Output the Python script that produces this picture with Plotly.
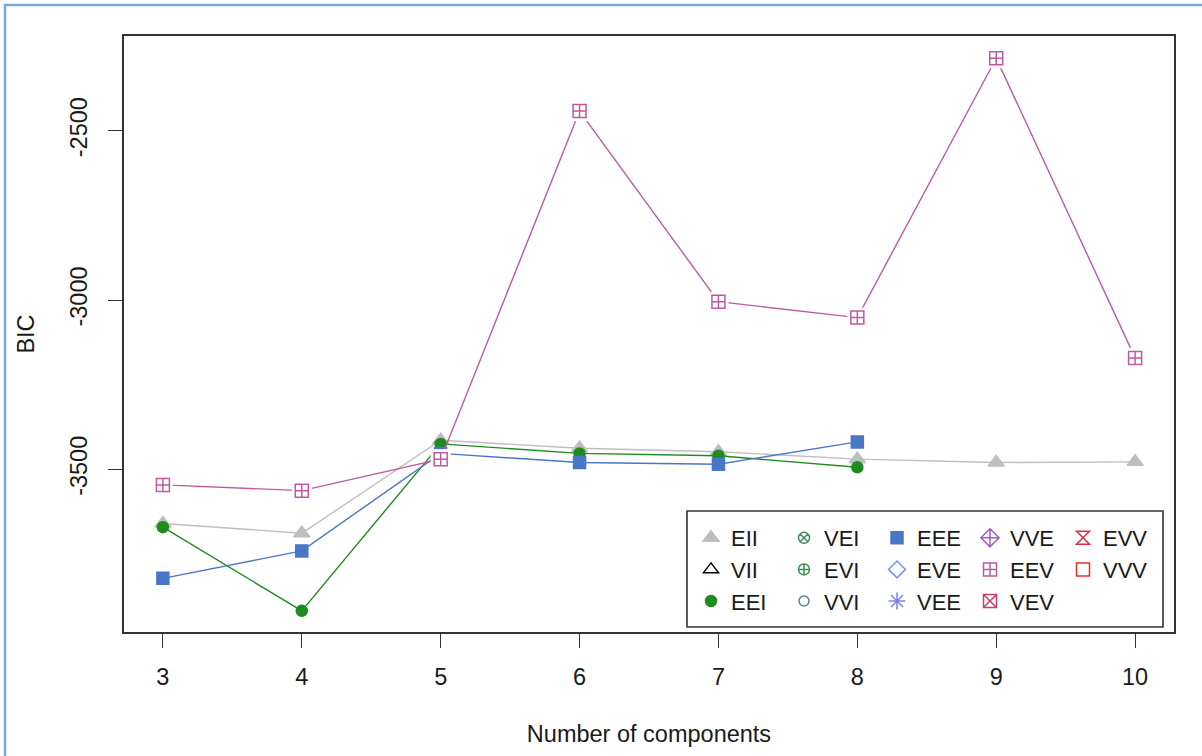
import plotly.graph_objects as go

# ---- data ----
components = [3, 4, 5, 6, 7, 8, 9, 10]
models = ["EII", "VII", "EEI", "VEI", "EVI", "VVI", "EEE", "EVE", "VEE",
          "VVE", "EEV", "VEV", "EVV", "VVV"]
bic_EII = [-3660, -3689, -3414, -3438, -3448, -3470, -3480, -3478]
bic_EEI = [-3671, -3918, -3425, -3453, -3460, -3494, None, None]
bic_EEE = [-3822, -3741, -3453, -3480, -3485, -3419, None, None]
bic_EEV = [-3546, -3563, -3470, -2442, -3005, -3052, -2286, -3171]
bic_values = {"EII": bic_EII, "EEI": bic_EEI, "EEE": bic_EEE, "EEV": bic_EEV}
x_ticks = [3, 4, 5, 6, 7, 8, 9, 10]
y_ticks = [-3500, -3000, -2500]

# ---- styles ----
colors = {"EII": "#BEBEBE", "VII": "#000000", "EEI": "#1E8B1E", "VEI": "#3F8A62",
          "EVI": "#3C8E52", "VVI": "#5B7F8E", "EEE": "#4A76C8", "EVE": "#7F8FF0",
          "VEE": "#7F7FF0", "VVE": "#A25BC8", "EEV": "#C05AA0", "VEV": "#C8406A",
          "EVV": "#D83040", "VVV": "#E03030"}
symbols = {"EII": "triangle-up", "VII": "triangle-up-open", "EEI": "circle",
           "VEI": "circle-x-open", "EVI": "circle-cross-open", "VVI": "circle-open",
           "EEE": "square", "EVE": "diamond-open", "VEE": "asterisk-open",
           "VVE": "diamond-cross-open", "EEV": "square-cross-open", "VEV": "square-x-open",
           "EVV": "hourglass-open", "VVV": "square-open"}
sizes = {"EII": 14, "VII": 13, "EEI": 11, "VEI": 11, "EVI": 11, "VVI": 10,
         "EEE": 12, "EVE": 13, "VEE": 14, "VVE": 14, "EEV": 13, "VEV": 13,
         "EVV": 13, "VVV": 13}
legend_of = {}
columns = [["EII", "VII", "EEI"], ["VEI", "EVI", "VVI"], ["EEE", "EVE", "VEE"],
           ["VVE", "EEV", "VEV"], ["EVV", "VVV"]]
legend_ids = ["legend", "legend2", "legend3", "legend4", "legend5"]
for lid, col in zip(legend_ids, columns):
    for m in col:
        legend_of[m] = lid

font_family = "Liberation Sans, Arial, sans-serif"
TXT = 23.5
fig = go.Figure()

for m in models:
    vals = bic_values.get(m)
    if vals is not None:
        fig.add_trace(go.Scatter(x=components, y=vals, mode="lines",
                                 line=dict(color=colors[m], width=1.4),
                                 showlegend=False, hoverinfo="skip"))
        if m == "EEV":
            fig.add_trace(go.Scatter(x=components, y=vals, mode="markers",
                                     marker=dict(symbol="square", size=20, color="white"),
                                     showlegend=False, hoverinfo="skip"))
        fig.add_trace(go.Scatter(x=components, y=vals, mode="markers", name=m,
                                 marker=dict(symbol=symbols[m], size=sizes[m],
                                             color=colors[m],
                                             line=dict(color=colors[m], width=1.5)),
                                 legend=legend_of[m]))
    else:
        fig.add_trace(go.Scatter(x=[None], y=[None], mode="markers", name=m,
                                 marker=dict(symbol=symbols[m], size=sizes[m],
                                             color=colors[m],
                                             line=dict(color=colors[m], width=1.5)),
                                 legend=legend_of[m]))

W, H = 1202, 756
L, T = 124, 36
R = W - 1174
B = H - 632
pw, ph = W - L - R, H - T - B

def px_to_paper_x(px):
    return (px - L) / pw

def px_to_paper_y(py):
    return (H - B - py) / ph

legend_lefts = [691, 784, 877, 970, 1063]
layout_legends = {}
for lid, lx in zip(legend_ids, legend_lefts):
    layout_legends[lid] = dict(x=px_to_paper_x(lx), y=px_to_paper_y(517),
                               xanchor="left", yanchor="top", orientation="v",
                               bgcolor="rgba(0,0,0,0)", borderwidth=0,
                               font=dict(family=font_family, size=22, color="#1a1a1a"),
                               itemclick=False, itemdoubleclick=False)

fig.update_layout(
    width=W, height=H,
    margin=dict(l=L, r=R, t=T, b=B, autoexpand=False),
    paper_bgcolor="white", plot_bgcolor="white",
    font=dict(family=font_family, size=TXT, color="#1a1a1a"),
    **layout_legends,
    xaxis=dict(range=[2.72, 10.28], tickvals=x_ticks, ticktext=[str(v) for v in x_ticks],
               showgrid=False, zeroline=False, showline=True, linecolor="#333333",
               linewidth=1.6, mirror=True, ticks="outside", ticklen=14, tickwidth=1.4,
               tickcolor="#333333", ticklabelstandoff=9,
               tickfont=dict(family=font_family, size=TXT, color="#1a1a1a"),
               title=dict(text="Number of components", standoff=37,
                          font=dict(family=font_family, size=TXT, color="#1a1a1a"))),
    yaxis=dict(range=[-3980.5, -2220.3], tickvals=y_ticks, ticktext=[str(v) for v in y_ticks],
               showgrid=False, zeroline=False, showline=True, linecolor="#333333",
               linewidth=1.6, mirror=True, ticks="outside", ticklen=14, tickwidth=1.4,
               tickcolor="#333333", tickangle=-90, ticklabelstandoff=12,
               tickfont=dict(family=font_family, size=TXT, color="#1a1a1a"),
               title=dict(text="BIC", standoff=25,
                          font=dict(family=font_family, size=TXT, color="#1a1a1a"))),
    shapes=[
        dict(type="rect", xref="paper", yref="paper",
             x0=px_to_paper_x(687), x1=px_to_paper_x(1163),
             y0=px_to_paper_y(627), y1=px_to_paper_y(511),
             line=dict(color="#333333", width=1.6), fillcolor="white", layer="below"),
        dict(type="rect", xref="paper", yref="paper",
             x0=px_to_paper_x(5), x1=px_to_paper_x(1260),
             y0=px_to_paper_y(820), y1=px_to_paper_y(5),
             line=dict(color="#7AA9E2", width=2.5), fillcolor="rgba(0,0,0,0)", layer="above"),
    ],
)

fig.write_html("out.html", config={"displayModeBar": False},
               post_script="document.body.style.margin='0px';")
